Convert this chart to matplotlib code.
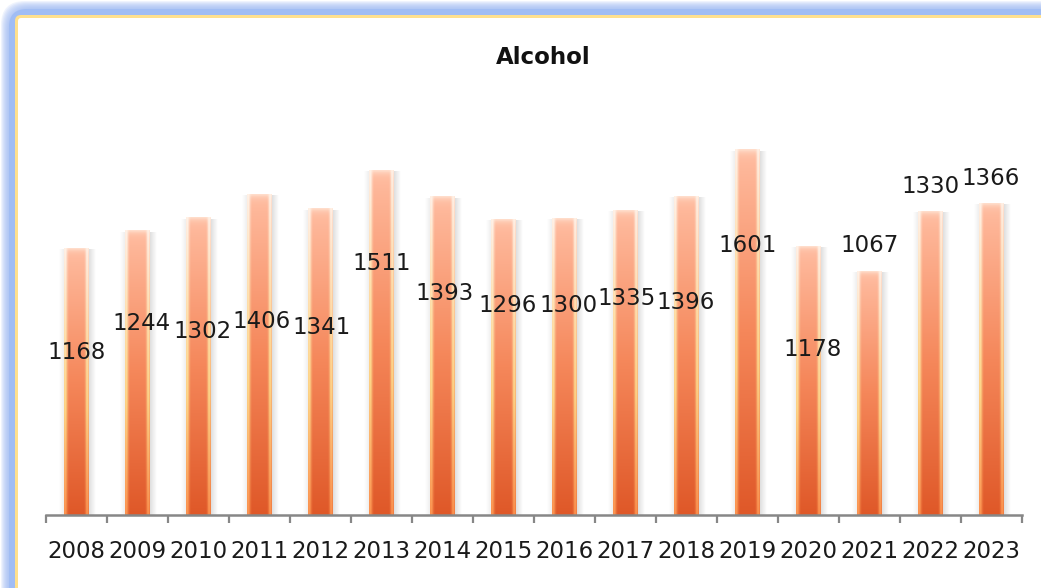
import numpy as np
import matplotlib
matplotlib.use("Agg")
import matplotlib.pyplot as plt
from matplotlib.patches import FancyBboxPatch
from matplotlib.colors import to_rgb

# ---------------- data ----------------
years = ["2008", "2009", "2010", "2011", "2012", "2013", "2014", "2015",
         "2016", "2017", "2018", "2019", "2020", "2021", "2022", "2023"]
values = [1168, 1244, 1302, 1406, 1341, 1511, 1393, 1296,
          1300, 1335, 1396, 1601, 1178, 1067, 1330, 1366]
title = "Alcohol"

# label placement (style, as in the original Excel chart)
label_y = [713, 840, 805, 849, 822, 1102, 971, 919,
           919, 949, 932, 1181, 726, 1181, 1439, 1474]
label_dx = [0, 0.07, 0.07, 0.04, 0.02, 0, 0.04, 0.07,
            0.06, 0.01, -0.02, 0, 0.07, 0, 0, -0.02]

W, H = 1041, 588
fig = plt.figure(figsize=(W / 100, H / 100), dpi=100)
fig.patch.set_facecolor("white")

# ---------------- frame with glow ----------------
fax = fig.add_axes([0, 0, 1, 1], zorder=0)
fax.set_xlim(0, W)
fax.set_ylim(H, 0)
fax.axis("off")
for k in range(1, 10):
    p = FancyBboxPatch((k, k), W + 60, H + 60,
                       boxstyle="round,pad=0,rounding_size=24",
                       facecolor="#9dbaf3", edgecolor="none", alpha=0.16)
    fax.add_patch(p)
fax.add_patch(FancyBboxPatch((9, 9), W + 60, H + 60,
                             boxstyle="round,pad=0,rounding_size=18",
                             facecolor="#a1bdf4", edgecolor="none"))
fax.add_patch(FancyBboxPatch((15, 15), W + 60, H + 60,
                             boxstyle="round,pad=0,rounding_size=6",
                             facecolor="#ffe08e", edgecolor="none"))
fax.add_patch(FancyBboxPatch((18, 18), W + 60, H + 60,
                             boxstyle="round,pad=0,rounding_size=3",
                             facecolor="white", edgecolor="none"))

# ---------------- main axes ----------------
scale = 0.2283  # px per unit
ymax = 1800
left = 46 / W
right = 1022 / W
bottom = (H - 515) / H
height = ymax * scale / H
ax = fig.add_axes([left, bottom, right - left, height], zorder=1)
ax.patch.set_alpha(0)

n = len(values)
x = np.arange(n)
bw = 25 / 61.0

def interp_stops(t, stops):
    pos = [s[0] for s in stops]
    cols = np.array([to_rgb(s[1]) for s in stops])
    out = np.zeros((len(t), 3))
    for c in range(3):
        out[:, c] = np.interp(t, pos, cols[:, c])
    return out

N, M = 200, 25
t = np.linspace(0, 1, N)
main = interp_stops(t, [(0, "#ffbca0"), (0.5, "#f5875a"), (1, "#df5828")])
hl = interp_stops(t, [(0, "#fff6ee"), (0.35, "#ffe8b0"), (0.6, "#ffe08e"), (1, "#ff9a55")])
wprof = np.zeros(M)
wprof[:5] = [0.85, 0.9, 0.65, 0.3, 0.08]
wprof[-5:] = [0.08, 0.35, 0.75, 0.85, 0.6]
img = main[:, None, :] * (1 - wprof[None, :, None]) + hl[:, None, :] * wprof[None, :, None]
cap = np.exp(-np.arange(N) / 2.0)[:, None, None] * 0.6
img = img * (1 - cap) + np.array(to_rgb("#fff2e6"))[None, None, :] * cap

# shadow gradient
sh_w = 0.11
sh = np.zeros((1, 20, 4))
sh[..., :3] = 0.55
sh[0, :, 3] = np.linspace(0.28, 0.0, 20)
shl = sh[:, ::-1, :].copy()
shl[..., 3] *= 0.5

for xi, v in zip(x, values):
    ax.imshow(sh, extent=[xi + bw / 2, xi + bw / 2 + sh_w, 0, v * 0.995],
              aspect="auto", interpolation="bilinear", zorder=1)
    ax.imshow(shl, extent=[xi - bw / 2 - sh_w * 0.7, xi - bw / 2, 0, v * 0.995],
              aspect="auto", interpolation="bilinear", zorder=1)
    ax.imshow(img, extent=[xi - bw / 2, xi + bw / 2, 0, v],
              aspect="auto", interpolation="bilinear", zorder=2)

for xi, ly, dx, v in zip(x, label_y, label_dx, values):
    ax.text(xi + dx, ly, str(v), ha="center", va="center",
            fontsize=16.5, color="#1a1a1a", family="DejaVu Sans", zorder=3)

ax.set_xlim(-0.5, n - 0.5)
ax.set_ylim(0, ymax)
for s in ["left", "right", "top"]:
    ax.spines[s].set_visible(False)
ax.spines["bottom"].set_color("#878787")
ax.spines["bottom"].set_linewidth(1.8)
ax.set_yticks([])
ax.set_xticks(np.arange(-0.5, n, 1.0))
ax.set_xticklabels([])
ax.tick_params(axis="x", which="major", length=5.5, width=1.6, color="#878787")
ax.set_xticks(x, minor=True)
ax.set_xticklabels(years, minor=True, fontsize=16.5, color="#1a1a1a",
                   family="DejaVu Sans")
ax.tick_params(axis="x", which="minor", length=0, pad=18)

fig.text(543 / W, 1 - 58 / H, title, ha="center", va="center",
         fontsize=16.5, fontweight="bold", color="#111111", family="DejaVu Sans")

fig.savefig("out.png", dpi=100, facecolor="white")
